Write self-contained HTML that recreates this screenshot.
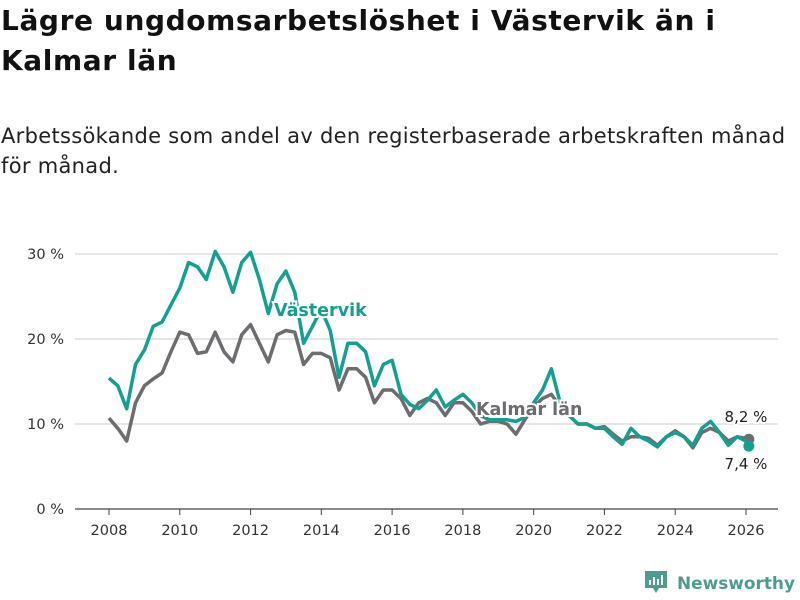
<!DOCTYPE html>
<html><head><meta charset="utf-8"><style>
body{margin:0;background:#fff;font-family:"DejaVu Sans","Liberation Sans",sans-serif;}
#wrap{position:relative;width:800px;height:600px;overflow:hidden;}
h1{position:absolute;left:1px;top:1px;margin:0;font-size:28px;line-height:40px;font-weight:bold;color:#111;white-space:nowrap;letter-spacing:0.6px;}
.sub{position:absolute;left:1px;top:121px;font-size:21px;line-height:30px;color:#222;white-space:nowrap;letter-spacing:0.3px;}
svg{position:absolute;left:0;top:0;}
svg text{font-family:"DejaVu Sans","Liberation Sans",sans-serif;}
</style></head><body>
<div id="wrap">
<h1>Lägre ungdomsarbetslöshet i Västervik än i<br>Kalmar län</h1>
<div class="sub">Arbetssökande som andel av den registerbaserade arbetskraften månad<br>för månad.</div>
<svg id="chart" width="800" height="600"></svg>
</div>
<script>
const years=[2008,2010,2012,2014,2016,2018,2020,2022,2024,2026];
const yTicks=[0,10,20,30];
const yTickLabels=["0 %","10 %","20 %","30 %"];
const startYear=2008;
const stepYears=0.25;
const vastervik=[15.4,14.5,11.8,17,18.7,21.5,22,24,26,29,28.5,27,30.3,28.5,25.5,29,30.2,27,23,26.5,28,25.5,19.5,21.5,23.5,21,15.5,19.5,19.5,18.5,14.5,17,17.5,13.5,12.3,11.8,12.8,14,12,12.8,13.5,12.5,11,10.5,10.5,10.5,10.3,10.8,12.5,14,16.5,12.5,11,10,10,9.5,9.5,8.5,7.6,9.5,8.5,8,7.3,8.5,9,8.5,7.5,9.5,10.3,9,7.5,8.5,8,7.4];
const kalmar=[10.7,9.5,8,12.5,14.5,15.3,16,18.5,20.8,20.5,18.3,18.5,20.8,18.5,17.3,20.5,21.7,19.5,17.3,20.5,21,20.8,17,18.3,18.3,17.8,14,16.5,16.5,15.5,12.5,14,14,13,11,12.5,13,12.5,11,12.5,12.5,11.5,10,10.3,10.3,10,8.8,10.5,12,13,13.5,12,11,10,10,9.5,9.7,8.8,8,8.5,8.5,8.3,7.5,8.5,9.2,8.5,7.2,9,9.5,9,8,8.5,8.3,8.2];
const lastYear=2026.08;
const svg=document.getElementById('chart');
const NS='http://www.w3.org/2000/svg';
const xS=y=>109+(y-2008)*(746-109)/18;
const yS=v=>509-v*8.5;
const tOf=(i,n)=>i===n-1?lastYear:startYear+i*stepYears;
function mk(tag,attrs){const e=document.createElementNS(NS,tag);for(const k in attrs)e.setAttribute(k,attrs[k]);svg.appendChild(e);return e;}
yTicks.forEach((v,i)=>{
 const g=mk('line',{x1:75,x2:778,y1:yS(v),y2:yS(v),stroke:v===0?'#444':'#ddd','stroke-width':v===0?1.2:1.5});
 
 
 const t=mk('text',{x:64,y:yS(v)+5,'text-anchor':'end','font-size':14.5,fill:'#333'});
 t.textContent=yTickLabels[i];
 
 
});
years.forEach(yr=>{
 const l=mk('line',{x1:xS(yr),x2:xS(yr),y1:509,y2:515,stroke:'#444'});
 
 
 const t=mk('text',{x:xS(yr),y:535,'text-anchor':'middle','font-size':14.5,fill:'#333'});
 t.textContent=yr;
 
 
});
function line(arr,col,name){
 const d=arr.map((v,i)=>(i?'L':'M')+xS(tOf(i,arr.length)).toFixed(1)+','+yS(v).toFixed(1)).join('');
 const p=mk('path',{d:d,fill:'none',stroke:col,'stroke-width':3.5,'stroke-linejoin':'round'});
 
 
 const n=arr.length;
 const c=mk('circle',{cx:xS(tOf(n-1,n)),cy:yS(arr[n-1]),r:5.5,fill:col});
 
 
}
line(kalmar,'#6d6c70','kalmar-line');
line(vastervik,'#13a090','vastervik-line');
function label(txt,x,y,col,w,name,anchor,fs){
 const t=mk('text',{x:x,y:y,'font-size':fs,'font-weight':w,fill:col,stroke:'#fff','stroke-width':4,'paint-order':'stroke','text-anchor':anchor||'start'});
 t.textContent=txt;
 
 
}
label('Västervik',274,316,'#13a090','bold','vastervik-label','start',17.5);
label('Kalmar län',476,415,'#6d6c70','bold','kalmar-label','start',17.5);
label('8,2 %',746,422,'#222','normal','kalmar-end-value','middle',15);
label('7,4 %',746,469,'#222','normal','vastervik-end-value','middle',15);
</script>
<svg width="800" height="600" style="position:absolute;left:0;top:0;pointer-events:none">
 <path d="M645 571h22v17h-8l-3 5-3-5h-8z" fill="#4c9d90"/>
 <rect x="649" y="580" width="2" height="5" fill="#fff"/><rect x="653" y="577" width="2" height="8" fill="#fff"/><rect x="657" y="579" width="2" height="6" fill="#fff"/><rect x="661" y="575" width="2" height="10" fill="#fff"/>
 <text x="677" y="589" font-size="17" fill="#4c9d90" font-weight="bold" textLength="118" lengthAdjust="spacingAndGlyphs">Newsworthy</text>
</svg>
</body></html>
